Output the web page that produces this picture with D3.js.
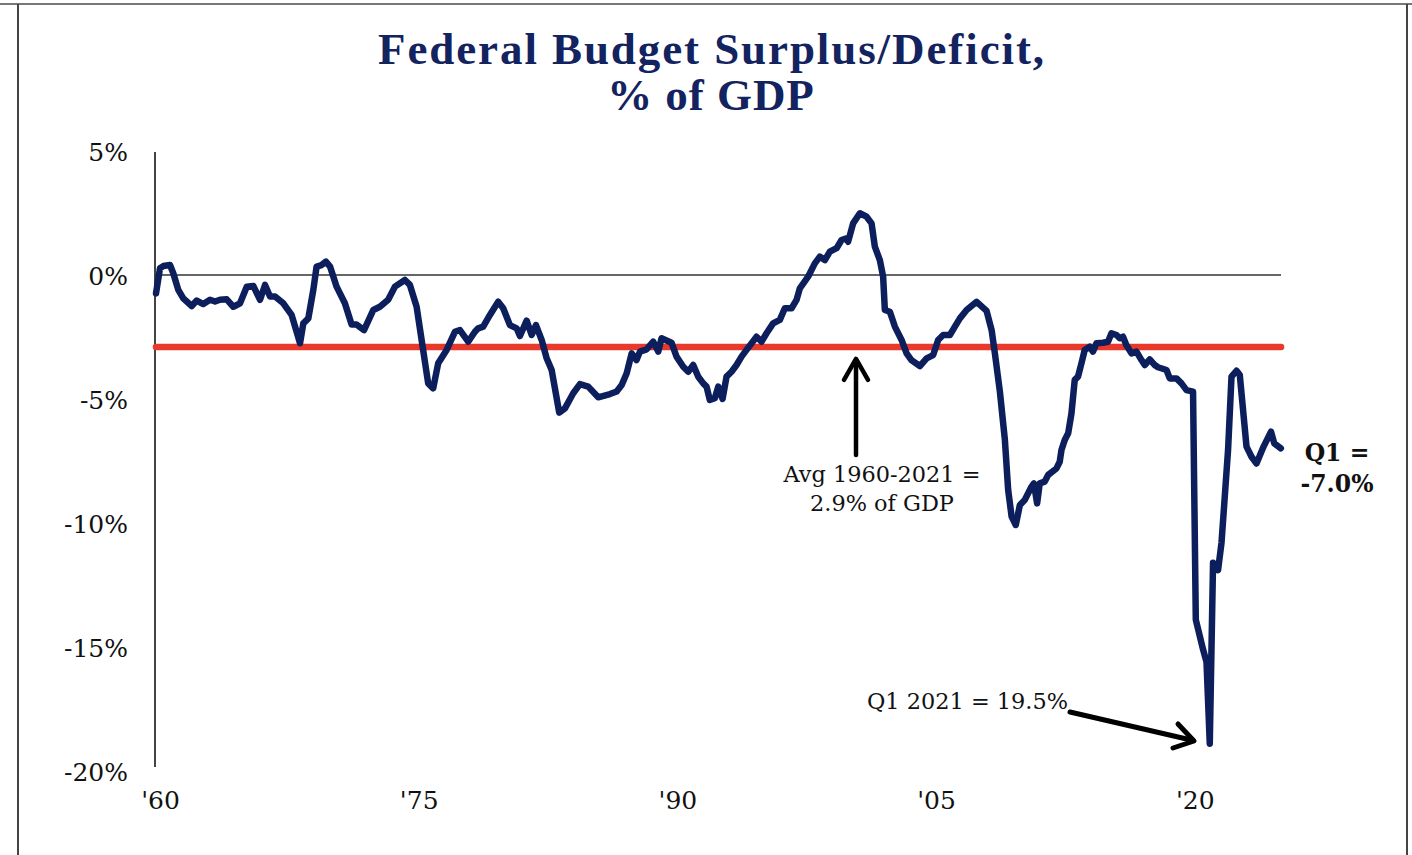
<!DOCTYPE html>
<html>
<head>
<meta charset="utf-8">
<script src="https://cdn.jsdelivr.net/npm/d3@7"></script>
<style>
  html, body { margin: 0; padding: 0; background: #fff; }
  svg { display: block; }
</style>
</head>
<body>
<svg id="chart" width="1412" height="855"></svg>
<script>
// ---- Data ----
const years = [
  1959.77, 1960.00, 1960.19, 1960.58, 1960.77, 1961.06, 1961.35, 1961.84, 1962.13, 1962.51,
  1962.90, 1963.19, 1963.48, 1963.87, 1964.25, 1964.64, 1965.03, 1965.41, 1965.80, 1966.09,
  1966.38, 1966.67, 1967.15, 1967.63, 1968.12, 1968.31, 1968.60, 1968.89, 1969.08, 1969.37,
  1969.62, 1969.86, 1970.24, 1970.72, 1971.11, 1971.40, 1971.83, 1972.37, 1972.75, 1973.23,
  1973.62, 1974.20, 1974.49, 1974.88, 1975.17, 1975.55, 1975.84, 1976.13, 1976.62, 1977.10,
  1977.39, 1977.87, 1978.26, 1978.45, 1978.74, 1979.13, 1979.61, 1979.90, 1980.29, 1980.68,
  1980.87, 1981.26, 1981.55, 1981.80, 1982.13, 1982.42, 1982.71, 1983.15, 1983.48, 1983.96,
  1984.35, 1984.83, 1985.41, 1986.09, 1986.48, 1986.77, 1987.06, 1987.35, 1987.63, 1987.83,
  1988.21, 1988.60, 1988.89, 1989.08, 1989.66, 1989.95, 1990.34, 1990.63, 1990.92, 1991.21,
  1991.50, 1991.69, 1991.88, 1992.17, 1992.37, 1992.62, 1992.85, 1993.14, 1993.43, 1993.72,
  1994.01, 1994.59, 1994.88, 1995.17, 1995.55, 1995.94, 1996.23, 1996.62, 1996.91, 1997.10,
  1997.58, 1997.97, 1998.26, 1998.55, 1998.84, 1999.23, 1999.52, 1999.81, 1999.90, 2000.19,
  2000.58, 2000.97, 2001.26, 2001.45, 2001.74, 2001.93, 2002.03, 2002.32, 2002.61, 2003.00,
  2003.29, 2003.57, 2004.06, 2004.45, 2004.83, 2005.12, 2005.41, 2005.80, 2006.09, 2006.38,
  2006.77, 2007.35, 2007.93, 2008.22, 2008.41, 2008.70, 2008.99, 2009.18, 2009.38, 2009.62,
  2009.86, 2010.14, 2010.53, 2010.67, 2010.86, 2011.01, 2011.30, 2011.50, 2011.98, 2012.17,
  2012.27, 2012.46, 2012.66, 2012.85, 2013.04, 2013.23, 2013.43, 2013.62, 2013.91, 2014.10,
  2014.30, 2014.68, 2014.97, 2015.17, 2015.46, 2015.65, 2015.84, 2016.03, 2016.33, 2016.62,
  2016.91, 2017.10, 2017.39, 2017.68, 2017.87, 2018.36, 2018.55, 2018.94, 2019.23, 2019.52,
  2019.90, 2020.06, 2020.48, 2020.68, 2020.87, 2021.06, 2021.35, 2021.55, 2021.93, 2022.13,
  2022.42, 2022.61, 2023.00, 2023.29, 2023.58, 2023.99, 2024.42, 2024.61, 2024.99
];
const deficitPct = [
  -0.74, 0.27, 0.36, 0.40, 0.07, -0.60, -0.94, -1.25, -1.03, -1.17,
  -1.00, -1.07, -1.00, -0.98, -1.28, -1.14, -0.47, -0.44, -1.00, -0.40,
  -0.87, -0.87, -1.14, -1.61, -2.75, -1.95, -1.75, -0.60, 0.34, 0.40,
  0.54, 0.34, -0.47, -1.14, -2.00, -2.00, -2.22, -1.41, -1.28, -1.00,
  -0.47, -0.20, -0.40, -1.28, -2.62, -4.37, -4.57, -3.56, -3.02, -2.29,
  -2.22, -2.69, -2.29, -2.15, -2.08, -1.61, -1.08, -1.34, -2.02, -2.15,
  -2.46, -1.84, -2.42, -2.02, -2.62, -3.36, -3.83, -5.55, -5.38, -4.77,
  -4.40, -4.50, -4.93, -4.80, -4.70, -4.44, -3.96, -3.16, -3.43, -3.09,
  -3.00, -2.69, -3.09, -2.55, -2.73, -3.29, -3.70, -3.90, -3.63, -4.10,
  -4.37, -4.50, -5.04, -4.97, -4.50, -5.00, -4.10, -3.90, -3.63, -3.29,
  -3.02, -2.49, -2.69, -2.35, -1.95, -1.81, -1.34, -1.34, -1.00, -0.54,
  -0.07, 0.47, 0.74, 0.60, 0.94, 1.08, 1.41, 1.48, 1.34, 2.08,
  2.49, 2.35, 2.08, 1.14, 0.60, -0.07, -1.41, -1.48, -2.08, -2.62,
  -3.16, -3.43, -3.67, -3.36, -3.23, -2.62, -2.42, -2.42, -2.08, -1.75,
  -1.41, -1.08, -1.45, -2.22, -3.16, -4.70, -6.65, -8.67, -9.74, -10.08,
  -9.27, -9.07, -8.54, -8.40, -9.21, -8.40, -8.33, -8.06, -7.80, -7.53,
  -7.06, -6.65, -6.38, -5.58, -4.23, -4.10, -3.56, -3.02, -2.89, -3.09,
  -2.75, -2.73, -2.69, -2.35, -2.42, -2.55, -2.49, -2.82, -3.16, -3.09,
  -3.43, -3.63, -3.40, -3.63, -3.72, -3.83, -4.17, -4.17, -4.37, -4.64,
  -4.70, -13.90, -15.10, -15.60, -18.90, -11.60, -11.90, -10.80, -7.06, -4.10,
  -3.86, -4.03, -6.92, -7.33, -7.60, -6.92, -6.32, -6.79, -6.99
];
const averagePct = -2.9;
const yTickValues = [5, 0, -5, -10, -15, -20];
const xTickYears = [1960, 1975, 1990, 2005, 2020];
const xTickLabels = ["'60", "'75", "'90", "'05", "'20"];
const titleLines = ["Federal Budget Surplus/Deficit,", "% of GDP"];
const avgNote = ["Avg 1960-2021 =", "2.9% of GDP"];
const peakNote = "Q1 2021 = 19.5%";
const lastNote = ["Q1 =", "-7.0%"];

// ---- Layout ----
const svg = d3.select("#chart");
const W = 1412, H = 855;
const navy = "#0c1f5c";
const red = "#e8392a";
const serif = "'DejaVu Serif', 'Liberation Serif', serif";
const titleFont = "'Liberation Serif', 'DejaVu Serif', serif";

const x = d3.scaleLinear().domain([1960, 2025]).range([160, 1281]);
const y = d3.scaleLinear().domain([-20, 5]).range([771, 151]);

function fitWidth(sel, target) {
  const fs = parseFloat(sel.attr("font-size"));
  const w = sel.node().getComputedTextLength();
  const nfs = fs * target / w;
  sel.attr("font-size", nfs);
  return nfs;
}
function fitSpacing(sel, target) {
  sel.attr("letter-spacing", 0);
  const w = sel.node().getComputedTextLength();
  const n = sel.text().length;
  const ls = Math.max(0, (target - w) / n);
  sel.attr("letter-spacing", ls);
  return ls;
}

// frame
svg.append("rect").attr("width", W).attr("height", H).attr("fill", "#fff");
svg.append("line").attr("x1", 0).attr("x2", W).attr("y1", 4).attr("y2", 4)
  .attr("stroke", "#777").attr("stroke-width", 2);
svg.append("line").attr("x1", 18).attr("x2", 18).attr("y1", 4).attr("y2", H)
  .attr("stroke", "#444").attr("stroke-width", 2);
svg.append("line").attr("x1", 1407).attr("x2", 1407).attr("y1", 4).attr("y2", H)
  .attr("stroke", "#444").attr("stroke-width", 2);

// title
const t1 = svg.append("text").attr("x", 712).attr("y", 64)
  .attr("text-anchor", "middle").attr("font-family", titleFont).attr("font-weight", "bold")
  .attr("font-size", 45).attr("fill", "#13235f").text(titleLines[0]);
const ls = fitSpacing(t1, 668);
const t2 = svg.append("text").attr("x", 711).attr("y", 110)
  .attr("text-anchor", "middle").attr("font-family", titleFont).attr("font-weight", "bold")
  .attr("font-size", 45).attr("letter-spacing", ls * 0.5).attr("fill", "#13235f").text(titleLines[1]);

// y axis
const yAxis = svg.append("g").attr("transform", "translate(155,0)")
  .call(d3.axisLeft(y).tickValues(yTickValues).tickFormat(d => d + "%").tickSize(0).tickPadding(27));
yAxis.select(".domain").remove();
yAxis.selectAll("text").attr("font-family", serif).attr("font-size", 25).attr("fill", "#111")
  .attr("dy", "0.38em");
svg.append("line").attr("x1", 155).attr("x2", 155).attr("y1", y(5) + 1).attr("y2", y(-20) - 4)
  .attr("stroke", "#444").attr("stroke-width", 2);

// x axis labels
const xAxis = svg.append("g").attr("transform", `translate(0,${y(-20)})`)
  .call(d3.axisBottom(x).tickValues(xTickYears).tickFormat((d, i) => xTickLabels[i]).tickSize(0).tickPadding(20));
xAxis.select(".domain").remove();
xAxis.selectAll("text").attr("font-family", serif).attr("font-size", 25).attr("fill", "#111");

// zero line
svg.append("line").attr("x1", 155).attr("x2", x(2025)).attr("y1", y(0)).attr("y2", y(0))
  .attr("stroke", "#333").attr("stroke-width", 1.6);

// average line
svg.append("line").attr("x1", 156).attr("x2", x(2025)).attr("y1", y(averagePct)).attr("y2", y(averagePct))
  .attr("stroke", red).attr("stroke-width", 6.5).attr("stroke-linecap", "round");

// data line
const pts = years.map((yr, i) => [yr, deficitPct[i]]);
svg.append("path").datum(pts)
  .attr("d", d3.line().x(d => x(d[0])).y(d => y(d[1])))
  .attr("fill", "none").attr("stroke", navy).attr("stroke-width", 6.5)
  .attr("stroke-linejoin", "round").attr("stroke-linecap", "round");

// average annotation arrow
const ax = 856, tipY = y(averagePct) + 12, baseY = 455;
const arrowG = svg.append("g").attr("stroke", "#000").attr("stroke-width", 4.5)
  .attr("stroke-linecap", "round").attr("stroke-linejoin", "round").attr("fill", "none");
arrowG.append("line").attr("x1", ax).attr("x2", ax).attr("y1", baseY).attr("y2", tipY + 2);
arrowG.append("polyline").attr("points", `${ax - 12},${tipY + 21} ${ax},${tipY} ${ax + 12},${tipY + 21}`);

const a1 = svg.append("text").attr("x", 882).attr("y", 482).attr("text-anchor", "middle")
  .attr("font-family", serif).attr("font-size", 20).attr("fill", "#111").text(avgNote[0]);
const afs = fitWidth(a1, 197);
svg.append("text").attr("x", 882).attr("y", 511).attr("text-anchor", "middle")
  .attr("font-family", serif).attr("font-size", afs).attr("fill", "#111").text(avgNote[1]);

// peak annotation
svg.append("text").attr("x", 867).attr("y", 709).attr("text-anchor", "start")
  .attr("font-family", serif).attr("font-size", afs).attr("fill", "#111").text(peakNote);
const p0 = [1070, 712], p1 = [1194, 741];
const arrow2 = svg.append("g").attr("stroke", "#000").attr("stroke-width", 5)
  .attr("stroke-linecap", "round").attr("stroke-linejoin", "round").attr("fill", "none");
arrow2.append("line").attr("x1", p0[0]).attr("y1", p0[1]).attr("x2", p1[0] - 3).attr("y2", p1[1] - 1);
arrow2.append("polyline").attr("points", `1178,724 ${p1[0]},${p1[1]} 1173,748`);

// last value note
const l1 = svg.append("text").attr("x", 1337).attr("y", 461).attr("text-anchor", "middle")
  .attr("font-family", serif).attr("font-weight", "bold").attr("font-size", 20).attr("fill", "#111").text(lastNote[0]);
const l2 = svg.append("text").attr("x", 1337).attr("y", 492).attr("text-anchor", "middle")
  .attr("font-family", serif).attr("font-weight", "bold").attr("font-size", 20).attr("fill", "#111").text(lastNote[1]);
const lfs = fitWidth(l2, 73);
l1.attr("font-size", lfs);
</script>
</body>
</html>
